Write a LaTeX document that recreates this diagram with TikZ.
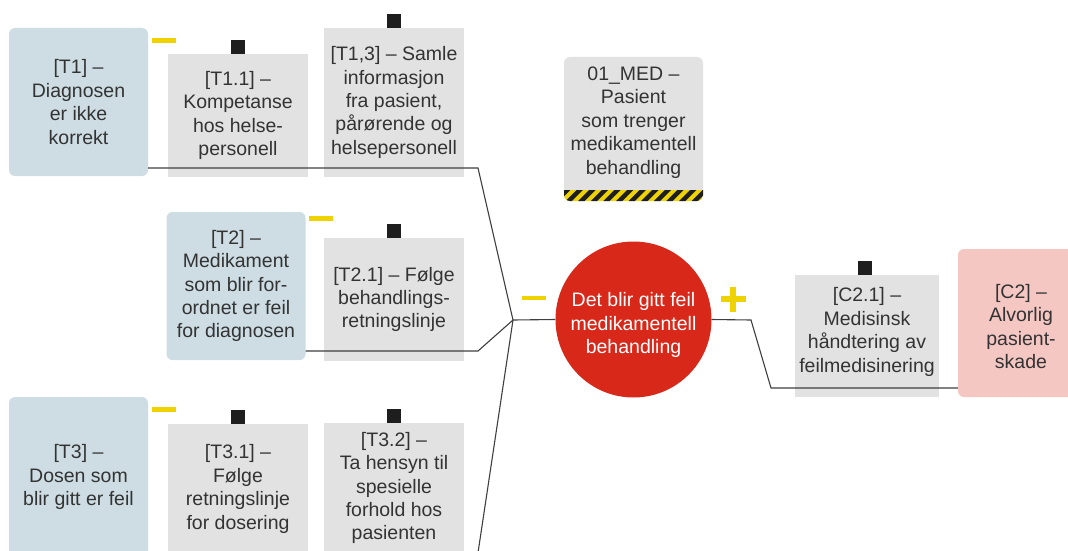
\documentclass[tikz,border=0pt]{standalone}
\usepackage{fontspec}
\setmainfont{Liberation Sans}
\definecolor{bluebox}{HTML}{CDDDE3}
\definecolor{graybox}{HTML}{E2E2E2}
\definecolor{pinkbox}{HTML}{F4C7C3}
\definecolor{redc}{HTML}{D8281A}
\definecolor{yel}{HTML}{EED300}
\definecolor{blk}{HTML}{1E1E1E}
\definecolor{txt}{HTML}{333333}
\definecolor{ln}{HTML}{3F3F3F}
\tikzset{
  lbl/.style={align=center, text=txt, inner sep=0pt, font=\fontsize{19.5}{23.4}\selectfont},
  gbox/.style={lbl, rectangle, fill=graybox, minimum width=140pt},
  bbox/.style={lbl, rectangle, fill=bluebox, rounded corners=6pt, minimum width=139pt, minimum height=148pt},
  pbox/.style={lbl, rectangle, fill=pinkbox, rounded corners=6pt, minimum width=130pt, minimum height=148pt},
  sq/.style={rectangle, fill=blk, minimum width=14pt, minimum height=14pt, inner sep=0pt, anchor=south},
  ydash/.style={rectangle, fill=yel, minimum width=24pt, minimum height=4.6pt, inner sep=0pt},
  conn/.style={draw=ln, line width=1.1pt},
}
\begin{document}
\begin{tikzpicture}[x=1pt,y=-1pt]
\clip (0,0) rectangle (1068,551);
\fill[white] (0,0) rectangle (1068,551);

% left boxes
\node[bbox] (T1) at (78.5,102) {[T1] –\\Diagnosen\\er ikke\\korrekt};
\node[gbox, minimum height=123pt] (T11) at (238,115.5) {[T1.1] –\\Kompetanse\\hos helse-\\personell};
\node[gbox, minimum height=149pt] (T13) at (394,102.5) {[T1,3] – Samle\\informasjon\\fra pasient,\\pårørende og\\helsepersonell};
\node[bbox] (T2) at (236,286) {[T2] –\\Medikament\\som blir for-\\ordnet er feil\\for diagnosen};
\node[gbox, minimum height=123pt] (T21) at (394,299.5) {[T2.1] – Følge\\behandlings-\\retningslinje};
\node[bbox, minimum height=160pt] (T3) at (78.5,477) {[T3] –\\Dosen som\\blir gitt er feil};
\node[gbox, minimum height=130pt] (T31) at (238,489) {[T3.1] –\\Følge\\retningslinje\\for dosering};
\node[gbox, minimum height=130pt] (T32) at (394,488) {[T3.2] –\\Ta hensyn til\\spesielle\\forhold hos\\pasienten};

% black squares
\node[sq] (s11) at (T11.north) {};
\node[sq] (s13) at (T13.north) {};
\node[sq] (s21) at (T21.north) {};
\node[sq] (s31) at (T31.north) {};
\node[sq] (s32) at (T32.north) {};

% yellow dashes
\node[ydash] (y1) at (164,40.5) {};
\node[ydash] (y2) at (321,218.5) {};
\node[ydash] (y3) at (164,409.5) {};
\node[ydash] (ym) at (534,298) {};
\fill[yel] (720.5,296.2) rectangle (745.5,301.8);
\fill[yel] (730.2,286.5) rectangle (735.8,311.5);

% 01_MED box
\node[rectangle, fill=graybox, rounded corners=6pt, minimum width=139pt, minimum height=144pt, inner sep=0pt] (med) at (633.5,129) {};
\begin{scope}
\clip[rounded corners=6pt] (564,57) rectangle (703,201);
\fill[yel] (564,190) rectangle (703,201);
\foreach \i in {0,...,12} {
  \fill[blk] ({553+\i*12.6},201) -- ++(6.3,0) -- ++(11,-11) -- ++(-6.3,0) -- cycle;
}
\end{scope}
\node[lbl] (medtxt) at (633.5,122.5) {01\_MED –\\Pasient\\som trenger\\medikamentell\\behandling};

% circle
\node[circle, fill=redc, minimum size=156pt, inner sep=0pt] (circ) at (633.5,319.5) {};
\node[align=center, text=white, inner sep=0pt, font=\fontsize{19.5}{23.4}\selectfont] (circtxt) at (633.5,325) {Det blir gitt feil\\medikamentell\\behandling};

% right boxes
\node[gbox, minimum width=144pt, minimum height=122pt] (C21) at (867,336) {};
\node[lbl] (C21txt) at (867,332) {[C2.1] –\\Medisinsk\\håndtering av\\feilmedisinering};
\node[sq] (sc21) at (865,275) {};
\node[pbox] (C2) at (1023,323) {};
\node[lbl] (C2txt) at (1021,326.5) {[C2] –\\Alvorlig\\pasient-\\skade};

% connectors
\coordinate (j) at (513,320);
\coordinate (k1) at (478,168);
\coordinate (k2) at (478,351);
\coordinate (k3) at (476,566);
\coordinate (r1) at (751,320);
\coordinate (r2) at (771,388);
\draw[conn] (T1.east |- k1) -- (k1) -- (j) -- (circ.west);
\draw[conn] (T2.east |- k2) -- (k2) -- (j);
\draw[conn] (j) -- (k3);
\draw[conn] (circ.east) -- (r1) -- (r2) -- (C2.west |- r2);
\end{tikzpicture}
\end{document}
